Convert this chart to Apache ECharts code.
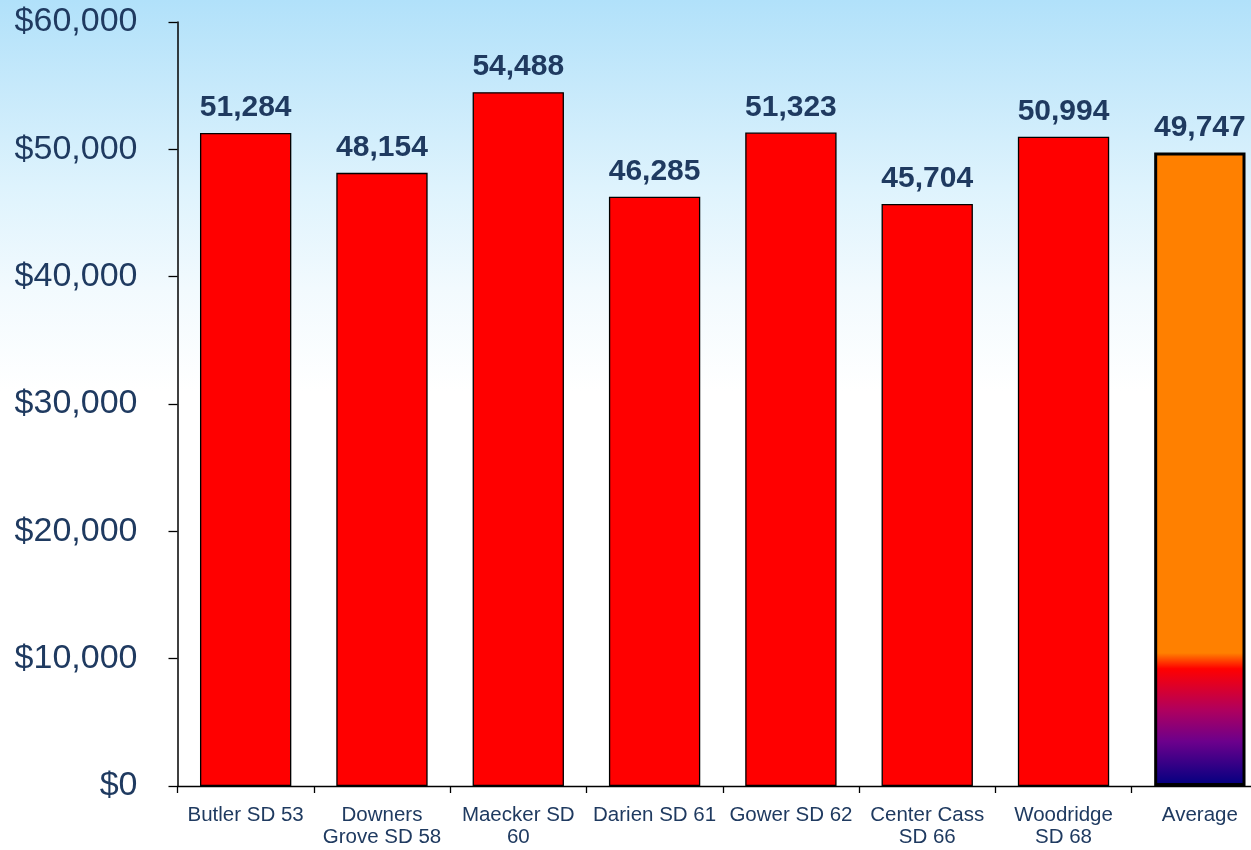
<!DOCTYPE html>
<html>
<head>
<meta charset="utf-8">
<script src="https://cdn.jsdelivr.net/npm/echarts@6/dist/echarts.min.js"></script>
<style>
  html, body { margin: 0; padding: 0; width: 1251px; height: 850px; overflow: hidden; }
  body { background: linear-gradient(to bottom, #b1e1fa 0%, #c6e9fb 10%, #def3fd 22%, #f2fafe 34%, #ffffff 46%, #ffffff 100%); }
  #chart { width: 1268px; height: 850px; }
</style>
</head>
<body>
<div id="chart"></div>
<script>
const categories = ["Butler SD 53", "Downers\nGrove SD 58", "Maecker SD\n60", "Darien SD 61", "Gower SD 62", "Center Cass\nSD 66", "Woodridge\nSD 68", "Average"];
const values = [51284, 48154, 54488, 46285, 51323, 45704, 50994, 49747];
const yTicks = { min: 0, max: 60000, interval: 10000 };

const navy = '#1f3a60';
const chart = echarts.init(document.getElementById('chart'), null, { renderer: 'canvas' });

const avgGradient = new echarts.graphic.LinearGradient(0, 0, 0, 1, [
  { offset: 0, color: '#ff8000' },
  { offset: 0.79, color: '#ff8000' },
  { offset: 0.815, color: '#ff0000' },
  { offset: 0.88, color: '#b0005e' },
  { offset: 0.93, color: '#6c008c' },
  { offset: 1, color: '#000080' }
]);

const data = values.map((v, i) => {
  const isAvg = i === values.length - 1;
  return {
    value: v,
    itemStyle: isAvg
      ? { color: avgGradient, borderColor: '#000', borderWidth: 3 }
      : { color: '#ff0000', borderColor: '#000', borderWidth: 1.3 }
  };
});

chart.setOption({
  backgroundColor: 'transparent',
  animation: false,
  grid: { left: 177.5, right: 0, top: 22, bottom: 64, containLabel: false },
  xAxis: {
    type: 'category',
    data: categories,
    axisLine: { show: true, lineStyle: { color: '#000', width: 1.3 } },
    axisTick: { show: true, alignWithLabel: false, length: 7, lineStyle: { color: '#000', width: 1.3 } },
    axisLabel: {
      interval: 0,
      margin: 18,
      color: navy,
      fontFamily: 'Liberation Sans, Arial, sans-serif',
      fontSize: 20.5,
      lineHeight: 22
    }
  },
  yAxis: {
    type: 'value',
    min: yTicks.min,
    max: yTicks.max,
    interval: yTicks.interval,
    splitLine: { show: false },
    axisLine: { show: true, lineStyle: { color: '#000', width: 1.5 } },
    axisTick: { show: true, length: 9, lineStyle: { color: '#000', width: 1.3 } },
    axisLabel: {
      margin: 40,
      color: navy,
      fontFamily: 'Liberation Sans, Arial, sans-serif',
      fontSize: 34,
      formatter: v => '$' + v.toLocaleString('en-US')
    }
  },
  series: [{
    type: 'bar',
    data: data,
    barCategoryGap: '33%',
    label: {
      show: true,
      position: 'top',
      distance: 10,
      color: navy,
      fontFamily: 'Liberation Sans, Arial, sans-serif',
      fontWeight: 'bold',
      fontSize: 30,
      formatter: p => p.value.toLocaleString('en-US')
    }
  }]
});
</script>
</body>
</html>
